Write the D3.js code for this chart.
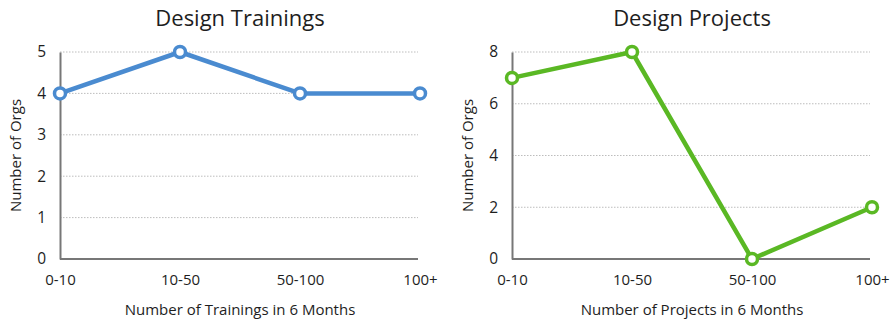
<!DOCTYPE html>
<html>
<head>
<meta charset="utf-8">
<script src="https://cdn.jsdelivr.net/npm/d3@7"></script>
<style>
  html, body { margin: 0; padding: 0; background: #fff; }
  svg { display: block; font-family: "Open Sans", "Noto Sans", sans-serif; }
</style>
</head>
<body>
<svg id="chart" width="893" height="324"></svg>
<script>
// Buckets shared by both panels
const categories = ["0-10", "10-50", "50-100", "100+"];

// Design Trainings panel
const trainingCounts = [4, 5, 4, 4];
const trainingTicks = [0, 1, 2, 3, 4, 5];

// Design Projects panel
const projectCounts = [7, 8, 0, 2];
const projectTicks = [0, 2, 4, 6, 8];

const panels = [
  { title: "Design Trainings", xTitle: "Number of Trainings in 6 Months", values: trainingCounts,
    ticks: trainingTicks, color: "#4a8bd0", left: 60, yTitleX: 16 },
  { title: "Design Projects", xTitle: "Number of Projects in 6 Months", values: projectCounts,
    ticks: projectTicks, color: "#5ab824", left: 512, yTitleX: 468 }
];

const svg = d3.select("#chart");
const plotTop = 52, plotBottom = 259, span = 360;
const ink = "#1e1e1e";

panels.forEach(p => {
  const x = d3.scalePoint().domain(categories).range([p.left, p.left + span]);
  const y = d3.scaleLinear().domain([0, d3.max(p.ticks)]).range([plotBottom, plotTop]);
  const g = svg.append("g");

  // dotted gridlines
  g.selectAll("line.grid").data(p.ticks.filter(t => t > 0)).join("line")
    .attr("class", "grid")
    .attr("x1", p.left).attr("x2", p.left + span - 2)
    .attr("y1", d => y(d)).attr("y2", d => y(d))
    .attr("stroke", "#bdbdbd").attr("stroke-width", 1).attr("stroke-dasharray", "1.5,1.5");

  // y axis
  const ya = g.append("g").attr("transform", `translate(${p.left},0)`)
    .call(d3.axisLeft(y).tickValues(p.ticks).tickSize(0).tickPadding(14).tickFormat(d3.format("d")));
  ya.select(".domain").attr("stroke", "#777").attr("stroke-width", 2);
  ya.selectAll("text").attr("font-size", 15.5).attr("fill", ink).attr("font-family", "Open Sans");

  // x axis
  const xa = g.append("g").attr("transform", `translate(0,${plotBottom})`)
    .call(d3.axisBottom(x).tickSize(0).tickPadding(15));
  xa.select(".domain").attr("d", `M${p.left},0H${p.left + span - 2}`).attr("stroke", "#777").attr("stroke-width", 2);
  xa.selectAll("text").attr("font-size", 15).attr("fill", ink).attr("font-family", "Open Sans");

  // titles
  g.append("text").attr("x", p.left + span / 2).attr("y", 26).attr("text-anchor", "middle")
    .attr("font-size", 22).attr("fill", ink).text(p.title);
  g.append("text").attr("x", p.left + span / 2).attr("y", 315).attr("text-anchor", "middle")
    .attr("font-size", 15).attr("fill", ink).text(p.xTitle);
  g.append("text").attr("transform", `translate(${p.yTitleX},${(plotTop + plotBottom) / 2}) rotate(-90)`)
    .attr("text-anchor", "middle").attr("dy", "0.35em")
    .attr("font-size", 15).attr("fill", ink).text("Number of Orgs");

  // series line and markers
  const line = d3.line().x((d, i) => x(categories[i])).y(d => y(d));
  g.append("path").datum(p.values).attr("d", line)
    .attr("fill", "none").attr("stroke", p.color).attr("stroke-width", 4.5).attr("stroke-linejoin", "round");
  g.selectAll("circle").data(p.values).join("circle")
    .attr("cx", (d, i) => x(categories[i])).attr("cy", d => y(d)).attr("r", 5.5)
    .attr("fill", "#fff").attr("stroke", p.color).attr("stroke-width", 3.5);
});
</script>
</body>
</html>
